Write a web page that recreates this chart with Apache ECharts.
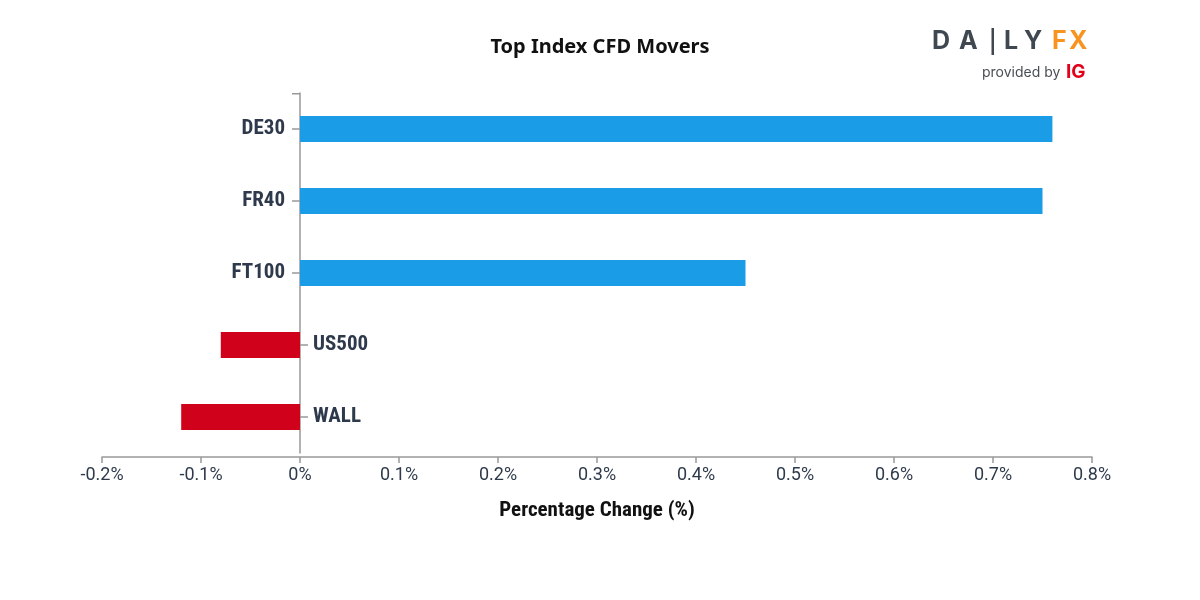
<!DOCTYPE html>
<html>
<head>
<meta charset="utf-8">
<script src="https://cdn.jsdelivr.net/npm/echarts@6/dist/echarts.min.js"></script>
<style>html,body{margin:0;padding:0;background:#fff}#c{width:1200px;height:600px}</style>
</head>
<body>
<div id="c"></div>
<script>
const categories = ['DE30', 'FR40', 'FT100', 'US500', 'WALL'];
const changes = [0.76, 0.75, 0.45, -0.08, -0.12];
const xMin = -0.2, xMax = 0.8, xStep = 0.1;
const titleText = 'Top Index CFD Movers';
const xName = 'Percentage Change (%)';

const labelColor = '#2e3a4b';
const axisColor = '#999999';
const condFont = "'Roboto Condensed', 'Liberation Sans Narrow', 'DejaVu Sans Condensed', Roboto, sans-serif";
const logoFont = "bold 25px Inter, Roboto, sans-serif";

const chart = echarts.init(document.getElementById('c'));
const isPos = i => changes[i] >= 0;

const catLabel = {
  fontFamily: condFont, fontSize: 21, fontWeight: 'bold', color: labelColor
};

chart.setOption({
  animation: false,
  backgroundColor: '#ffffff',
  title: {
    text: titleText,
    left: 'center',
    top: 32,
    textStyle: { fontFamily: "'Noto Sans', sans-serif", fontSize: 20, fontWeight: 'bold', color: '#111111' }
  },
  grid: { left: 102, right: 108, top: 93, bottom: 147 },
  xAxis: [
    {
      type: 'value',
      min: xMin, max: xMax, interval: xStep,
      offset: 4,
      splitLine: { show: false },
      axisLine: { show: true, onZero: false, lineStyle: { color: axisColor, width: 1.5 } },
      axisTick: { show: true, length: 6, lineStyle: { color: axisColor, width: 1.5 } },
      axisLabel: {
        margin: 9,
        fontFamily: 'Roboto, sans-serif', fontSize: 18, color: labelColor,
        formatter: v => Number(v.toFixed(1)) + '%'
      },
      name: xName,
      nameLocation: 'middle',
      nameGap: 43,
      nameTextStyle: { fontFamily: condFont, fontSize: 21, fontWeight: 'bold', color: '#111111' }
    },
    {
      type: 'value', position: 'top',
      min: xMin, max: xMax, interval: xStep,
      show: false
    }
  ],
  yAxis: [
    {
      type: 'category', data: categories, inverse: true, position: 'left',
      axisLine: { show: true, onZero: true, onZeroAxisIndex: 0, lineStyle: { color: axisColor, width: 1.5 } },
      axisTick: { show: true, alignWithLabel: true, length: 8, interval: (i) => isPos(i), lineStyle: { color: axisColor, width: 1.5 } },
      axisLabel: { show: false }
    },
    {
      type: 'category', data: categories, inverse: true, position: 'right',
      axisLine: { show: false, onZero: true, onZeroAxisIndex: 1 },
      axisTick: { show: true, alignWithLabel: true, length: 8, interval: (i) => !isPos(i), lineStyle: { color: axisColor, width: 1.5 } },
      axisLabel: { show: false }
    }
  ],
  series: [{
    type: 'bar',
    xAxisIndex: 0,
    yAxisIndex: 0,
    data: changes.map((v, i) => ({
      value: v,
      label: Object.assign({
        show: true,
        position: v >= 0 ? 'left' : 'right',
        distance: v >= 0 ? 15 : 13,
        formatter: categories[i]
      }, catLabel)
    })),
    barWidth: 26,
    itemStyle: { color: p => p.value >= 0 ? '#1a9de6' : '#d0021b' }
  }],
  graphic: [
    { type: 'text', left: 932, top: 29, style: { text: 'D', font: logoFont, fill: '#3f4751' } },
    { type: 'text', left: 959, top: 29, style: { text: 'A', font: logoFont, fill: '#3f4751' } },
    { type: 'rect', shape: { x: 991.5, y: 28, width: 2.5, height: 27 }, style: { fill: '#3f4751' } },
    { type: 'text', left: 1004, top: 29, style: { text: 'L', font: logoFont, fill: '#3f4751' } },
    { type: 'text', left: 1024, top: 29, style: { text: 'Y', font: logoFont, fill: '#3f4751' } },
    { type: 'text', left: 1052, top: 29, style: { text: 'F', font: logoFont, fill: '#f7931e' } },
    { type: 'text', left: 1069, top: 29, style: { text: 'X', font: logoFont, fill: '#f7931e' } },
    { type: 'text', left: 982, top: 66, style: { text: 'provided by', font: "14px Inter, Roboto, sans-serif", fill: '#4a4f55' } },
    { type: 'text', left: 1066, top: 63, style: { text: 'IG', font: "bold 19px Inter, Roboto, sans-serif", fill: '#e2001a' } }
  ]
});

// small end cap at the top of the vertical axis
const x0 = chart.convertToPixel({ xAxisIndex: 0 }, 0);
chart.setOption({
  graphic: [{
    type: 'line', id: 'cap',
    shape: { x1: x0 - 8, y1: 93.75, x2: x0, y2: 93.75 },
    style: { stroke: axisColor, lineWidth: 1.5 }
  }]
});
</script>
</body>
</html>
